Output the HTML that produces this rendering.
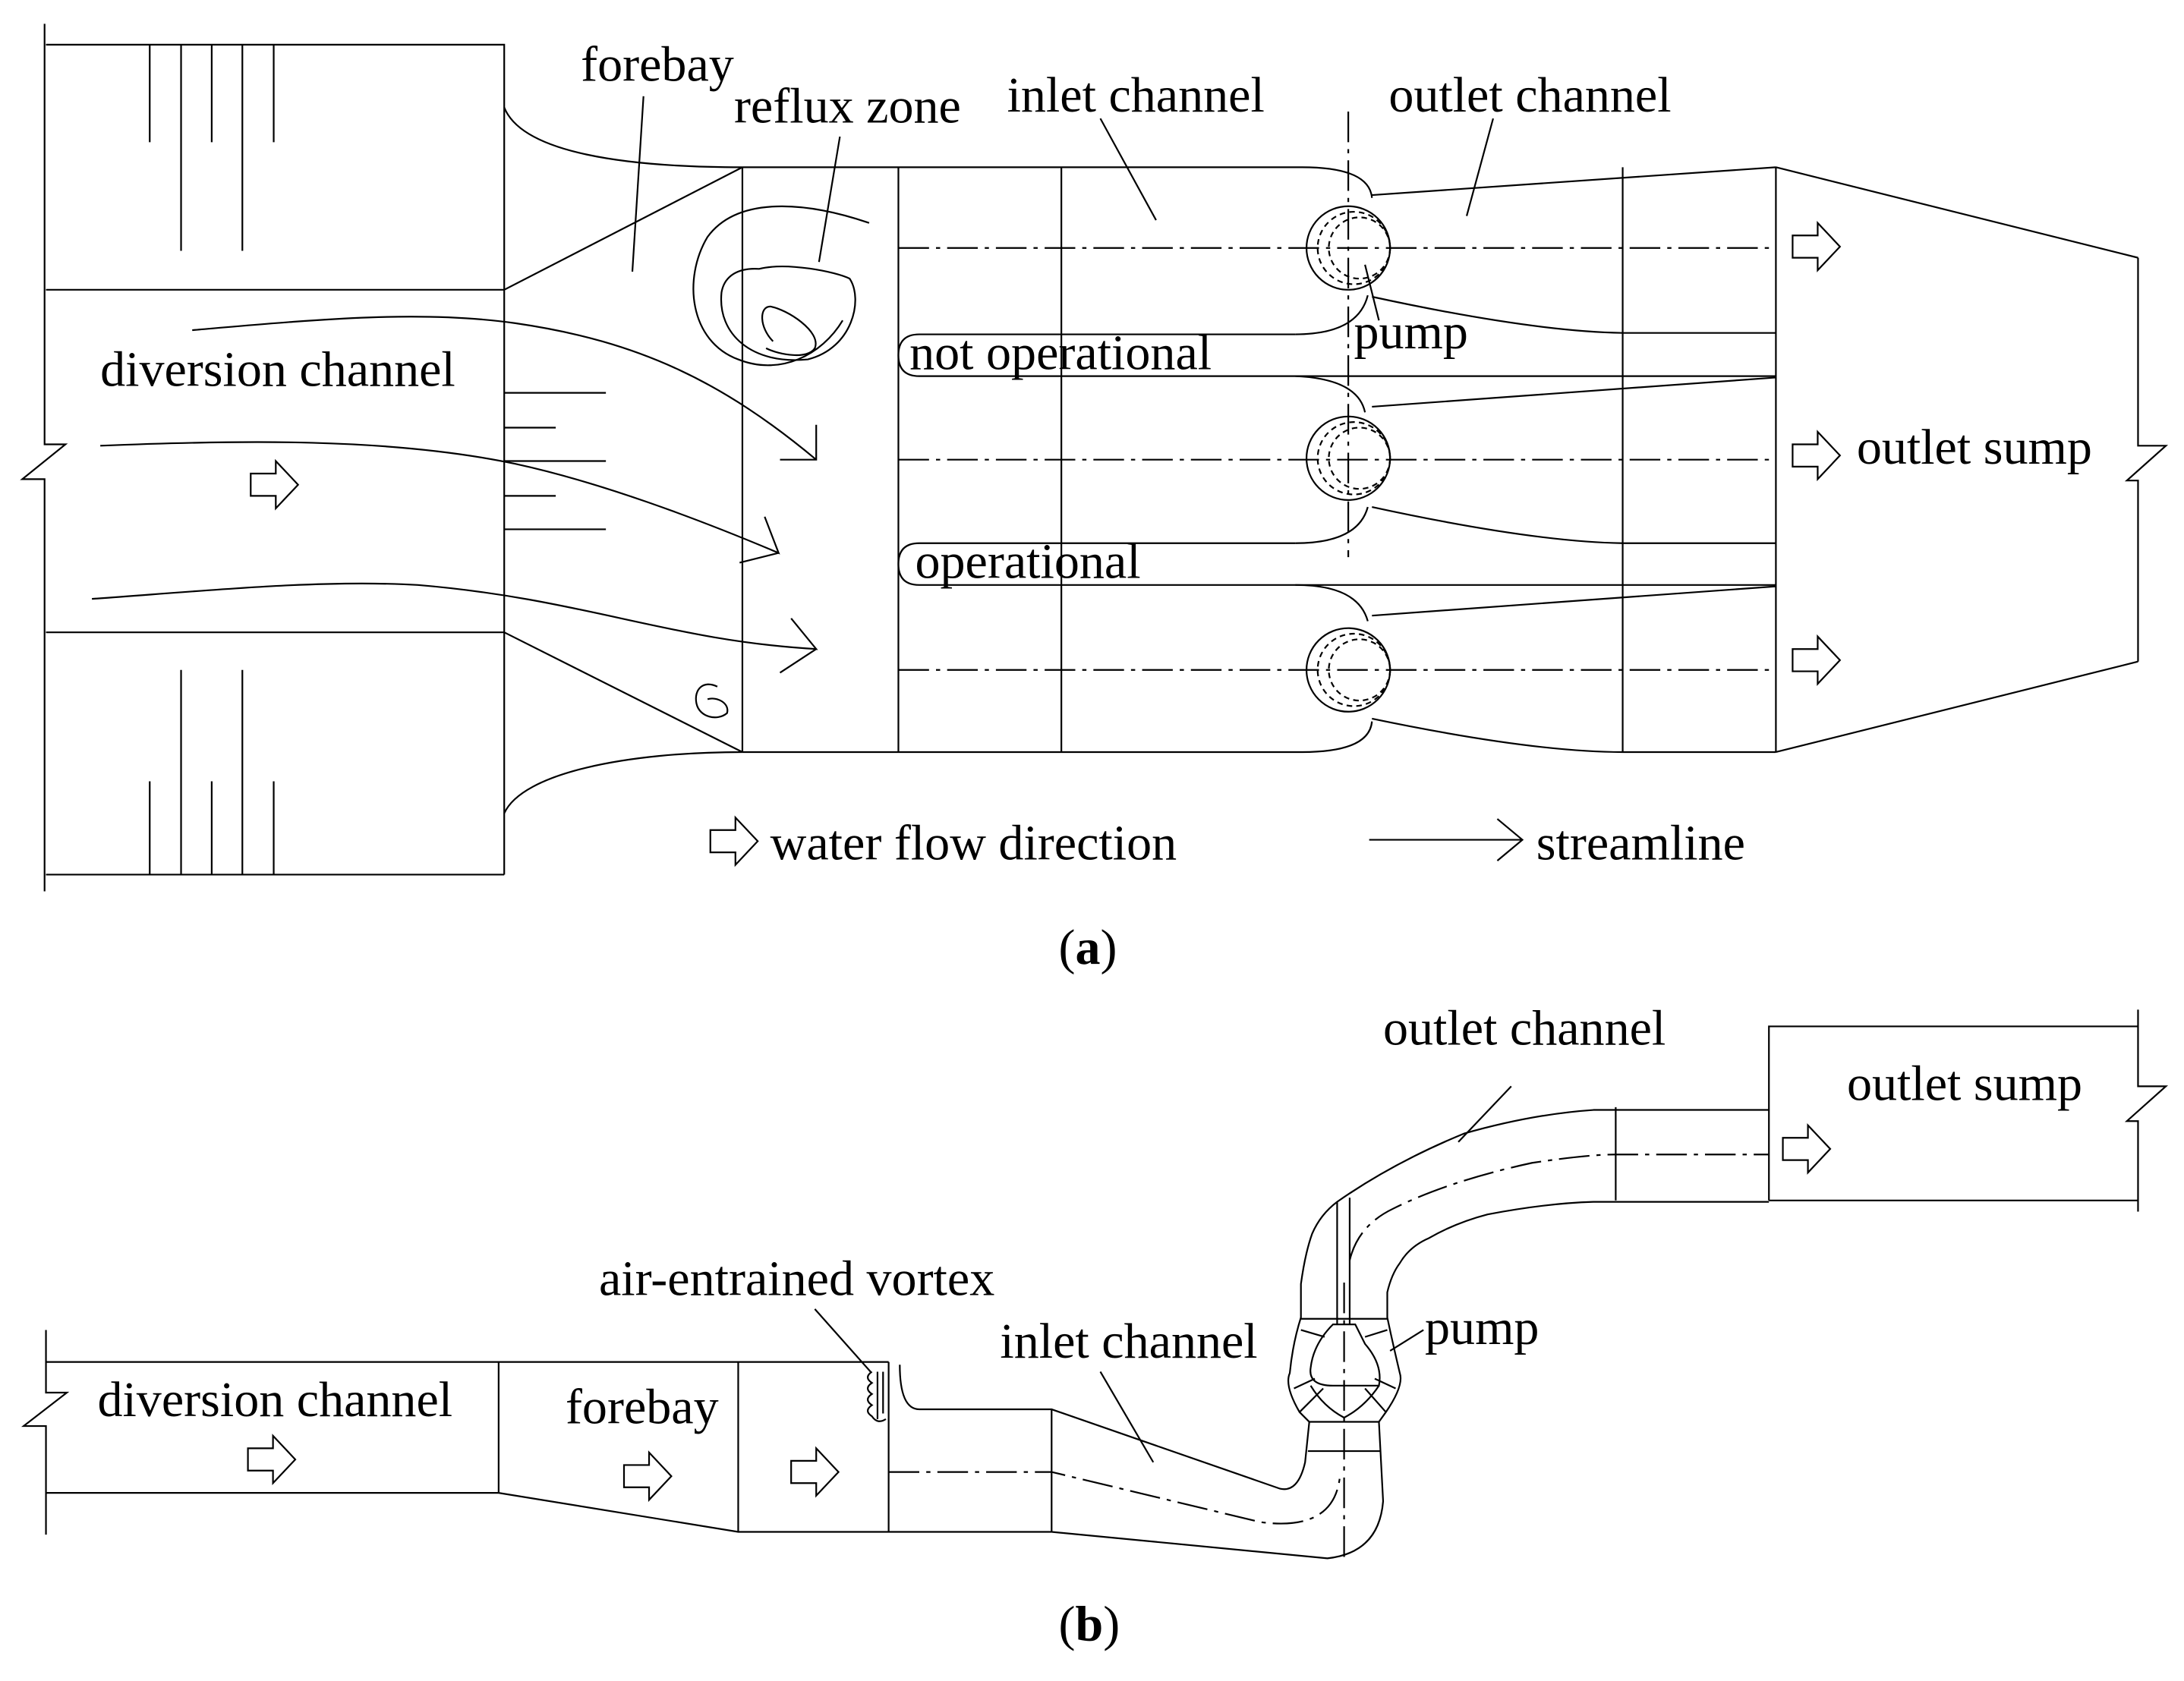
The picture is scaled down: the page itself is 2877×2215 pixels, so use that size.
<!DOCTYPE html>
<html><head><meta charset="utf-8"><style>
html,body{margin:0;padding:0;background:#fff;}
svg{display:block;}
text{font-family:"Liberation Serif",serif;font-size:36px;fill:#000;}
</style></head><body>
<svg width="2877" height="2215" viewBox="0 0 1568 1207" xmlns="http://www.w3.org/2000/svg">
<defs>
<g id="ha"><polygon points="0,-8 18,-8 18,-17 34,0 18,17 18,8 0,8" fill="#fff" stroke="#000" stroke-width="1.2"/></g>
</defs>
<g fill="none" stroke="#000" stroke-width="1.2">
<path d="M32,17 V319 H47 L16,344 H32 V640"/>
<path d="M33,32 H362 V628 M33,208 H362 M33,454 H362 M33,628 H362"/>
<path d="M107.5,32 V102 M130,32 V180 M152,32 V102 M174,32 V180 M196.5,32 V102"/>
<path d="M107.5,561 V628 M130,481 V628 M152,561 V628 M174,481 V628 M196.5,561 V628"/>
<path d="M362,282 H435 M362,307 H399 M362,331 H435 M362,356 H399 M362,380 H435"/>
<path d="M362,77 C375,110 450,120 533,120 M362,208 L533,120 M362,454 L533,540 M362,584 C375,555 450,540 533,540"/>
<path d="M533,120 V540 M645,120 V540 M762,120 V540 M1165,120 V540 M1275,120 V540"/>
<path d="M533,120 H935 Q983,120 985,142"/>
<path d="M533,540 H935 Q983,540 985,518"/>
<path d="M930,240 H660 Q645,240 645,255 Q645,270 660,270 H1275"/>
<path d="M930,240 Q975,240 982,212"/>
<path d="M930,270 Q975,272 980,296"/>
<path d="M930,390 H660 Q645,390 645,405 Q645,420 660,420 H1275"/>
<path d="M930,390 Q975,390 982,364"/>
<path d="M930,420 Q975,420 982,446"/>
<path d="M985,140 L1275,120"/>
<path d="M985,213 Q1100,238 1165,239 H1275"/>
<path d="M985,292 L1275,271"/>
<path d="M985,364 Q1100,389 1165,390 H1275"/>
<path d="M985,442 L1275,421"/>
<path d="M985,516 Q1100,540 1165,540 H1275"/>
<path d="M1275,120 L1535,185 M1275,540 L1535,475 M1535,185 V320 L1555,320 L1527,345 H1535 V475"/>
<circle cx="968" cy="178" r="30"/><circle cx="968" cy="329" r="30"/><circle cx="968" cy="481" r="30"/>
<g stroke-dasharray="4 3">
<circle cx="972" cy="178" r="26"/><circle cx="976" cy="178" r="22"/>
<circle cx="972" cy="329" r="26"/><circle cx="976" cy="329" r="22"/>
<circle cx="972" cy="481" r="26"/><circle cx="976" cy="481" r="22"/>
</g>
<path d="M645,178 H1275 M645,330 H1275 M645,481 H1275 M968,80 V400" stroke-dasharray="22 5 3 5"/>
<path d="M138,237 C220,230 300,222 370,232 C460,245 520,275 586,330 M586,305 V330 H560"/>
<path d="M72,320 C170,316 280,314 370,333 C430,346 500,372 559,397 L549,371 M559,397 L531,404"/>
<path d="M66,430 C150,424 230,416 300,420 C420,430 480,460 586,466 L568,444 M586,466 L560,483"/>
<path d="M624,160 C580,145 530,140 508,170 C490,200 495,245 530,258 C560,270 590,255 605,230"/>
<path d="M545,193 C565,188 600,195 610,200 C620,215 612,250 580,258 C540,262 515,240 518,210 C520,198 530,192 545,193 Z"/>
<path d="M555,245 C545,235 545,220 553,220 C565,222 590,238 585,250 C580,258 560,255 550,250"/>
<path d="M515,493 C505,488 498,495 500,505 C502,515 515,518 522,512 C524,505 515,500 508,502"/>
<path d="M462,69 L454,195 M603,98 L588,188 M790,85 L830,158 M1072,85 L1053,155 M990,230 L980,190"/>
<path d="M983,603 H1093 M1075,588 L1093,603 L1075,618"/>
<path d="M33,955 V1000 H48 L17,1024 H33 V1102"/>
<path d="M33,978 H638 M33,1072 H358 L530,1100 H755 M358,978 V1072 M530,978 V1100 M638,978 V1100"/>
<path d="M646,980 Q646,1012 660,1012 H755 L919,1069 Q932,1072 937,1050 L940,1021"/>
<path d="M755,1012 V1100"/>
<path d="M755,1100 L953,1119 Q990,1115 993,1078 L990,1021"/>
<path d="M626,985 q-6,4 0,8 q-6,4 0,8 q-6,4 0,8 q-6,4 0,8 q4,6 10,2 M630,985 v34 M634,985 v30"/>
<path d="M940,1021 L933,1014 Q922,995 926,986 Q928,965 934,946 V922 Q937,900 942,886 Q948,872 960,863 Q1000,835 1051,814 Q1100,800 1144,797 H1270"/>
<path d="M990,1021 L995,1014 Q1008,995 1005,986 Q1000,965 996,946 V928 Q999,915 1005,907 Q1012,895 1026,889 Q1045,878 1068,872 Q1110,864 1144,863 H1270"/>
<path d="M934,947 H996 M940,1021 H990 M939,1042 H991 M1160,795 V862"/>
<path d="M960,863 V951 M969,860 V951"/>
<path d="M957,951 H973 L980,965 Q993,980 990,995 L957,995 Q939,995 941,982 Q943,965 957,951 Z"/>
<path d="M941,995 Q950,1010 965,1018 Q980,1010 990,995"/>
<path d="M934,955 L951,960 M996,955 L980,960 M929,997 L944,990 M1002,997 L987,990 M933,1014 L950,997 M995,1014 L980,997"/>
<path d="M965,921 V1122 M638,1057 H755 L905,1093 Q958,1100 962,1060 M969,905 Q975,880 1000,868 Q1040,848 1100,835 Q1140,829 1160,829 H1270" stroke-dasharray="22 5 3 5"/>
<path d="M1270,862 V737 H1535 M1270,862 H1535 M1535,725 V780 L1555,780 L1527,805 H1535 V870"/>
<path d="M1085,780 L1047,820 M1022,955 L998,970 M790,985 L828,1050 M585,940 L625,985"/>
</g>
<use href="#ha" x="180" y="348"/>
<use href="#ha" x="1287" y="177"/>
<use href="#ha" x="1287" y="327"/>
<use href="#ha" x="1287" y="474"/>
<use href="#ha" x="510" y="604"/>
<use href="#ha" x="178" y="1048"/>
<use href="#ha" x="448" y="1060"/>
<use href="#ha" x="568" y="1057"/>
<use href="#ha" x="1280" y="825"/>
<text x="417" y="58">forebay</text>
<text x="527" y="88">reflux zone</text>
<text x="723" y="80">inlet channel</text>
<text x="997" y="80">outlet channel</text>
<text x="72" y="277">diversion channel</text>
<text x="653" y="265">not operational</text>
<text x="972" y="250">pump</text>
<text x="1333" y="333">outlet sump</text>
<text x="657" y="415">operational</text>
<text x="553" y="617">water flow direction</text>
<text x="1103" y="617">streamline</text>
<text x="760" y="692">(<tspan font-weight="bold">a</tspan>)</text>
<text x="993" y="750">outlet channel</text>
<text x="1326" y="790">outlet sump</text>
<text x="430" y="930">air-entrained vortex</text>
<text x="718" y="975">inlet channel</text>
<text x="1023" y="965">pump</text>
<text x="70" y="1017">diversion channel</text>
<text x="406" y="1022">forebay</text>
<text x="760" y="1178">(<tspan font-weight="bold">b</tspan>)</text>
</svg>
</body></html>
